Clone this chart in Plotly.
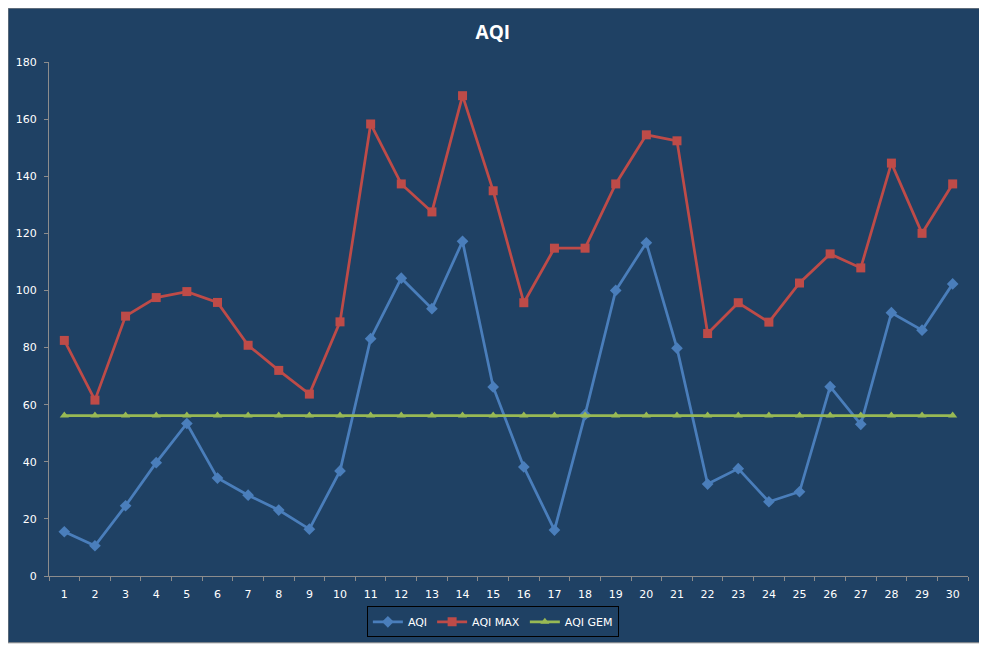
#!/usr/bin/env python3

# AQI per day: daily value, daily max and the average line

import plotly.graph_objects as go

days = [str(d) for d in range(1, 31)]

aqi = [15.5, 10.6, 24.6, 39.7, 53.4, 34.3, 28.3, 23.1, 16.4, 36.8,
       83.1, 104.3, 93.6, 117.2, 66.2, 38.2, 16.1, 56.5, 100.0, 116.7,
       79.8, 32.2, 37.6, 26.0, 29.5, 66.3, 53.1, 92.2, 86.1, 102.3]

aqi_max = [82.5, 61.6, 91.0, 97.5, 99.6, 95.8, 80.8, 72.0, 63.7, 89.0,
           158.3, 137.3, 127.5, 168.2, 134.9, 95.7, 114.8, 114.8, 137.3, 154.5,
           152.4, 84.9, 95.7, 88.9, 102.6, 112.8, 107.9, 144.6, 120.0, 137.3]

aqi_gem = [56.2] * 30

BG = '#1F4164'
TXT = 'white'
GREY = '#8C8C8C'

fig = go.Figure()

fig.add_trace(go.Scatter(x=days, y=aqi, name='AQI', mode='lines+markers',
                         line=dict(color='#4A7EBB', width=2.75),
                         marker=dict(symbol='diamond', size=9, color='#4A7EBB')))
fig.add_trace(go.Scatter(x=days, y=aqi_max, name='AQI MAX', mode='lines+markers',
                         line=dict(color='#BE4B48', width=2.75),
                         marker=dict(symbol='square', size=9, color='#BE4B48')))
fig.add_trace(go.Scatter(x=days, y=aqi_gem, name='AQI GEM', mode='lines+markers',
                         line=dict(color='#98B954', width=2.75),
                         marker=dict(symbol='triangle-up', size=8, color='#98B954')))

# dark panel with a thin grey frame (page body margin already gives the white edge)
fig.add_shape(type='rect', xref='paper', yref='paper',
              x0=-0.0446, x1=1.0152, y0=-0.130, y1=1.1049,
              fillcolor=BG, line=dict(color=GREY, width=1), layer='below')

fig.update_layout(
    width=979, height=640,
    margin=dict(l=41, r=19, t=54, b=71),
    paper_bgcolor='white', plot_bgcolor='rgba(0,0,0,0)',
    title=dict(text='<b>AQI</b>', xref='paper', x=0.483, xanchor='center',
               y=0.9625, yanchor='middle',
               font=dict(family='Open Sans, DejaVu Sans', size=19, color=TXT)),
    font=dict(family='DejaVu Sans, Verdana', size=11, color=TXT),
    xaxis=dict(type='category', range=[-0.5, 29.5], tickson='boundaries',
               showline=True, linecolor=GREY, linewidth=1,
               ticks='outside', ticklen=4, tickcolor=GREY,
               ticklabelstandoff=8, automargin=False,
               showgrid=False, zeroline=False,
               tickfont=dict(size=11, color=TXT)),
    yaxis=dict(range=[0, 180], dtick=20, showline=True, linecolor=GREY,
               linewidth=1, ticks='outside', ticklen=4, tickcolor=GREY,
               ticklabelstandoff=5, automargin=False,
               showgrid=False, zeroline=False,
               tickfont=dict(size=11, color=TXT)),
    legend=dict(orientation='h', x=0.483, xanchor='center', y=-0.087, yanchor='middle',
                bgcolor=BG, bordercolor='black', borderwidth=1,
                font=dict(size=11, color=TXT), itemwidth=30),
    showlegend=True,
)

fig.write_html("out.html")
